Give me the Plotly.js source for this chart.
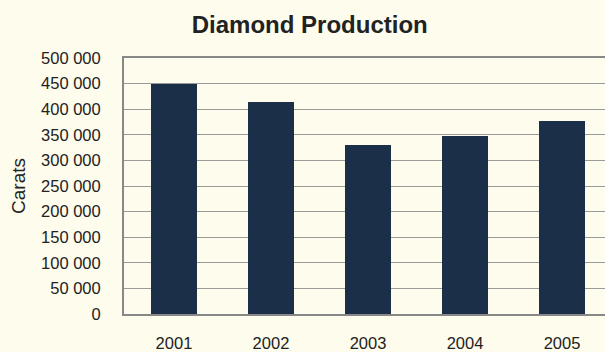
<!DOCTYPE html>
<html>
<head>
<meta charset="utf-8">
<script src="https://cdn.plot.ly/plotly-3.0.1.min.js"></script>
<style>
  html, body { margin: 0; padding: 0; background: #fefcec; }
  #chart { width: 605px; height: 352px; }
</style>
</head>
<body>
<div id="chart"></div>
<script>
// Annual diamond output, in carats
const years = ['2001', '2002', '2003', '2004', '2005'];
const carats = [450000, 414000, 331000, 348000, 377000];

const bg = '#fefcec';
const barColor = '#1b2f48';
const fontFamily = 'Liberation Sans, Arial, sans-serif';

const trace = {
  type: 'bar',
  x: years,
  y: carats,
  width: 0.474,
  marker: { color: barColor },
  hoverinfo: 'x+y'
};

const layout = {
  width: 605,
  height: 352,
  paper_bgcolor: bg,
  plot_bgcolor: bg,
  separators: '. ',
  showlegend: false,
  margin: { l: 124, r: 0, t: 58, b: 38, pad: 0 },
  font: { family: fontFamily, color: '#222222' },
  title: {
    text: '<b>Diamond Production</b>',
    font: { size: 24, family: fontFamily, color: '#222222' },
    xref: 'container', x: 0.512, xanchor: 'center',
    yref: 'container', y: 0.93, yanchor: 'middle'
  },
  bargap: 0,
  xaxis: {
    type: 'category',
    range: [-0.515, 4.443],
    showgrid: false,
    showline: true,
    mirror: true,
    linecolor: '#888888',
    linewidth: 2,
    ticks: '',
    ticklabelstandoff: 13,
    tickfont: { size: 16.5, family: fontFamily, color: '#222222' },
    fixedrange: true
  },
  yaxis: {
    range: [0, 500000],
    dtick: 50000,
    tick0: 0,
    tickformat: ',d',
    showgrid: true,
    gridcolor: '#9a9a9a',
    gridwidth: 1,
    zeroline: false,
    showline: true,
    linecolor: '#888888',
    linewidth: 2,
    ticks: '',
    ticklabelstandoff: 18,
    tickfont: { size: 16.5, family: fontFamily, color: '#222222' },
    title: {
      text: 'Carats',
      font: { size: 19, family: fontFamily, color: '#222222' },
      standoff: 10
    },
    fixedrange: true
  }
};

Plotly.newPlot('chart', [trace], layout, { displayModeBar: false, staticPlot: true });
</script>
</body>
</html>
